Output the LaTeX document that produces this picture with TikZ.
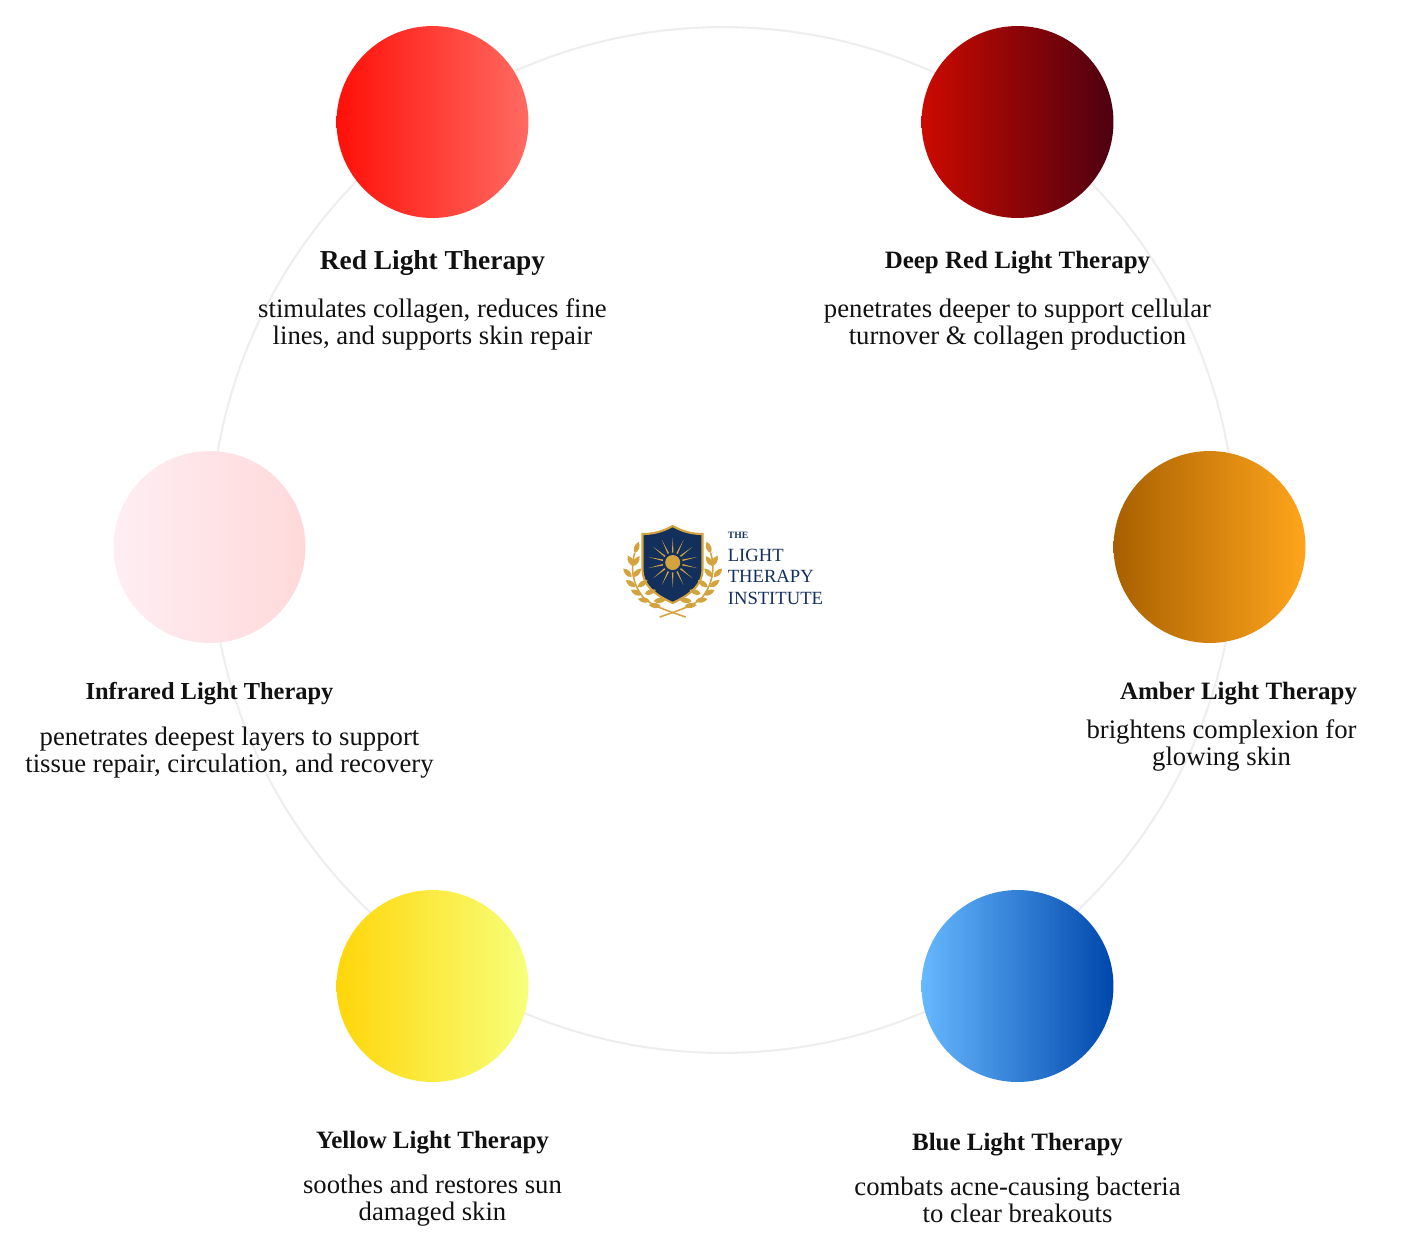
\documentclass[tikz,border=0pt]{standalone}
\usepackage{fontspec}
\usetikzlibrary{calc}
\setmainfont{Liberation Serif}
\definecolor{ringgrey}{HTML}{EEEEEE}
\definecolor{logonavy}{HTML}{13305C}
\definecolor{logogold}{HTML}{D2A33F}
\definecolor{textblack}{HTML}{111111}
\tikzset{
  lightdisc/.style={circle, minimum size=3.84cm, inner sep=0pt},
  lighttitle/.style={font=\fontsize{14.2}{15.4}\selectfont\bfseries, text=textblack, align=center, inner sep=0pt},
  lightdesc/.style={font=\fontsize{15.2}{15.4}\selectfont, text=textblack, align=center, inner sep=0pt},
  logotext/.style={anchor=west, text=logonavy, inner sep=0pt},
  laurelleaf/.style={fill=logogold},
}
\begin{document}
\begin{tikzpicture}[x=0.02cm, y=-0.02cm]
\useasboundingbox (0,0) rectangle (1403,1249);

% Draw the ring behind everything
\coordinate (ringcentre) at (723,540);
\draw[ringgrey, line width=1.2pt] (ringcentre) circle (10.26cm);

% Draw the discs
\node[lightdisc, left color={rgb,255:red,255;green,16;blue,8}, right color={rgb,255:red,255;green,106;blue,98}] (redlight) at (432.5,122) {};
\node[lightdisc, left color={rgb,255:red,204;green,10;blue,0}, right color={rgb,255:red,77;green,0;blue,16}] (deepred) at (1017.5,122) {};
\node[lightdisc, left color={rgb,255:red,254;green,238;blue,243}, right color={rgb,255:red,255;green,217;blue,218}] (infrared) at (209.5,547) {};
\node[lightdisc, left color={rgb,255:red,168;green,96;blue,0}, right color={rgb,255:red,255;green,165;blue,28}] (amber) at (1209.5,547) {};
\node[lightdisc, left color={rgb,255:red,255;green,214;blue,10}, right color={rgb,255:red,247;green,255;blue,122}] (yellow) at (432.5,986) {};
\node[lightdisc, left color={rgb,255:red,102;green,184;blue,255}, right color={rgb,255:red,0;green,71;blue,171}] (blue) at (1017.5,986) {};

% Titles and descriptions
\node[lighttitle, font=\fontsize{15.6}{15.4}\selectfont\bfseries] (redtitle) at (432.5,263.5) {Red Light Therapy};
\node[lightdesc] (reddesc) at (432.5,324.5) {stimulates collagen, reduces fine\\lines, and supports skin repair};
\node[lighttitle] (deeptitle) at (1017.5,262.5) {Deep Red Light Therapy};
\node[lightdesc] (deepdesc) at (1017.5,324.5) {penetrates deeper to support cellular\\turnover \& collagen production};
\node[lighttitle, font=\fontsize{13.9}{15.4}\selectfont\bfseries] (infratitle) at (209.5,694) {Infrared Light Therapy};
\node[lightdesc] (infradesc) at (229.5,752.5) {penetrates deepest layers to support\\tissue repair, circulation, and recovery};
\node[lighttitle] (ambertitle) at (1238.5,694) {Amber Light Therapy};
\node[lightdesc] (amberdesc) at (1221.5,745.5) {brightens complexion for\\glowing skin};
\node[lighttitle] (yellowtitle) at (432.5,1142.5) {Yellow Light Therapy};
\node[lightdesc] (yellowdesc) at (432.5,1200.5) {soothes and restores sun\\damaged skin};
\node[lighttitle] (bluetitle) at (1017.5,1144.5) {Blue Light Therapy};
\node[lightdesc] (bluedesc) at (1017.5,1199.5) {combats acne-causing bacteria\\to clear breakouts};

% Logo: shield
\draw[fill=logonavy, draw=logogold, line width=1.2pt] (672.7,526) .. controls (662,532) and (652,534) .. (642.5,534) -- (642.5,570)
  .. controls (643,588) and (660,597) .. (672.7,603) .. controls (685,597) and (702,588) .. (702.5,570) -- (702.5,534)
  .. controls (693,534) and (683,532) .. (672.7,526) -- cycle;

% Logo: sun
\node[circle, fill=logogold, minimum size=0.3cm, inner sep=0pt] (logosun) at (672.7,562.5) {};
\foreach \n in {0,...,13}
  \fill[logogold] ($(logosun)+(90+\n*25.714-4.5:0.2cm)$) -- ($(logosun)+(90+\n*25.714:0.5cm)$) -- ($(logosun)+(90+\n*25.714+4.5:0.2cm)$) -- cycle;

% Logo: laurels
\foreach \s in {1,-1}{
\begin{scope}[shift={(672.7,0)}, xscale=\s]
  \draw[logogold, line width=0.9pt] (13,617) .. controls (-5,611) and (-22,605) .. (-29,598) .. controls (-39,586) and (-43,570) .. (-38,553);
  \foreach \x/\y/\a in {-38/553/70, -39/566/120, -40/566/55, -41/577/135, -40/577/45, -37/587/145, -35/587/35, -31/595/155, -28/594/20, -23/601/170, -19/601/5, -12/606/175}
    \fill[laurelleaf, shift={(\x,\y)}, rotate=\a] (0,0) .. controls (3,-3.5) and (8,-3.5) .. (12,0) .. controls (8,3.5) and (3,3.5) .. (0,0) -- cycle;
\end{scope}
}

% Logo: name
\node[logotext, font=\fontsize{5.5}{6}\selectfont\bfseries] (logothe) at (727.5,535) {THE};
\node[logotext, font=\fontsize{10.6}{11}\selectfont] (logolight) at (727.5,555) {LIGHT};
\node[logotext, font=\fontsize{10.6}{11}\selectfont] (logotherapy) at (727.5,576) {THERAPY};
\node[logotext, font=\fontsize{10.6}{11}\selectfont] (logoinstitute) at (727.5,598) {INSTITUTE};
\end{tikzpicture}
\end{document}
